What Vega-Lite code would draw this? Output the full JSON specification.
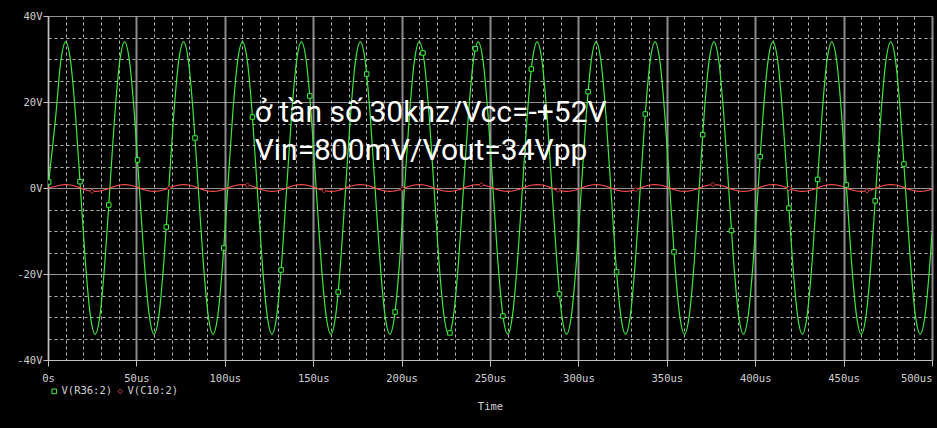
{
  "$schema": "https://vega.github.io/schema/vega-lite/v6.json",
  "width": 884,
  "height": 344,
  "autosize": {"type": "none"},
  "padding": {"left": 48, "top": 16, "right": 5, "bottom": 68},
  "background": "#000000",
  "config": {
    "view": {"stroke": null},
    "legend": {
      "orient": "none",
      "legendX": 1,
      "legendY": 370,
      "direction": "horizontal",
      "labelColor": "#d0d0d0",
      "labelFont": "DejaVu Sans Mono",
      "labelFontSize": 10.5,
      "symbolSize": 22,
      "symbolStrokeWidth": 1,
      "symbolFillColor": "#000000",
      "columnPadding": 2,
      "labelOffset": 2
    }
  },
  "datasets": {
    "wave": [
      {"t":0,"g":0,"r":0},
      {"t":4.44,"g":17,"r":0.4},{"t":7.22,"g":29.44,"r":0.69},{"t":10,"g":34,"r":0.8},{"t":12.78,"g":29.44,"r":0.69},{"t":15.56,"g":17,"r":0.4},{"t":18.33,"g":0,"r":0},{"t":21.11,"g":-17,"r":-0.4},{"t":23.89,"g":-29.44,"r":-0.69},{"t":26.67,"g":-34,"r":-0.8},{"t":29.44,"g":-29.44,"r":-0.69},{"t":32.22,"g":-17,"r":-0.4},
      {"t":35,"g":0,"r":0},{"t":37.78,"g":17,"r":0.4},{"t":40.56,"g":29.44,"r":0.69},{"t":43.33,"g":34,"r":0.8},{"t":46.11,"g":29.44,"r":0.69},{"t":48.89,"g":17,"r":0.4},{"t":51.67,"g":0,"r":0},{"t":54.44,"g":-17,"r":-0.4},{"t":57.22,"g":-29.44,"r":-0.69},{"t":60,"g":-34,"r":-0.8},{"t":62.78,"g":-29.44,"r":-0.69},{"t":65.56,"g":-17,"r":-0.4},
      {"t":68.33,"g":0,"r":0},{"t":71.11,"g":17,"r":0.4},{"t":73.89,"g":29.44,"r":0.69},{"t":76.67,"g":34,"r":0.8},{"t":79.44,"g":29.44,"r":0.69},{"t":82.22,"g":17,"r":0.4},{"t":85,"g":0,"r":0},{"t":87.78,"g":-17,"r":-0.4},{"t":90.56,"g":-29.44,"r":-0.69},{"t":93.33,"g":-34,"r":-0.8},{"t":96.11,"g":-29.44,"r":-0.69},{"t":98.89,"g":-17,"r":-0.4},
      {"t":101.67,"g":0,"r":0},{"t":104.44,"g":17,"r":0.4},{"t":107.22,"g":29.44,"r":0.69},{"t":110,"g":34,"r":0.8},{"t":112.78,"g":29.44,"r":0.69},{"t":115.56,"g":17,"r":0.4},{"t":118.33,"g":0,"r":0},{"t":121.11,"g":-17,"r":-0.4},{"t":123.89,"g":-29.44,"r":-0.69},{"t":126.67,"g":-34,"r":-0.8},{"t":129.44,"g":-29.44,"r":-0.69},{"t":132.22,"g":-17,"r":-0.4},
      {"t":135,"g":0,"r":0},{"t":137.78,"g":17,"r":0.4},{"t":140.56,"g":29.44,"r":0.69},{"t":143.33,"g":34,"r":0.8},{"t":146.11,"g":29.44,"r":0.69},{"t":148.89,"g":17,"r":0.4},{"t":151.67,"g":0,"r":0},{"t":154.44,"g":-17,"r":-0.4},{"t":157.22,"g":-29.44,"r":-0.69},{"t":160,"g":-34,"r":-0.8},{"t":162.78,"g":-29.44,"r":-0.69},{"t":165.56,"g":-17,"r":-0.4},
      {"t":168.33,"g":0,"r":0},{"t":171.11,"g":17,"r":0.4},{"t":173.89,"g":29.44,"r":0.69},{"t":176.67,"g":34,"r":0.8},{"t":179.44,"g":29.44,"r":0.69},{"t":182.22,"g":17,"r":0.4},{"t":185,"g":0,"r":0},{"t":187.78,"g":-17,"r":-0.4},{"t":190.56,"g":-29.44,"r":-0.69},{"t":193.33,"g":-34,"r":-0.8},{"t":196.11,"g":-29.44,"r":-0.69},{"t":198.89,"g":-17,"r":-0.4},
      {"t":201.67,"g":0,"r":0},{"t":204.44,"g":17,"r":0.4},{"t":207.22,"g":29.44,"r":0.69},{"t":210,"g":34,"r":0.8},{"t":212.78,"g":29.44,"r":0.69},{"t":215.56,"g":17,"r":0.4},{"t":218.33,"g":0,"r":0},{"t":221.11,"g":-17,"r":-0.4},{"t":223.89,"g":-29.44,"r":-0.69},{"t":226.67,"g":-34,"r":-0.8},{"t":229.44,"g":-29.44,"r":-0.69},{"t":232.22,"g":-17,"r":-0.4},
      {"t":235,"g":0,"r":0},{"t":237.78,"g":17,"r":0.4},{"t":240.56,"g":29.44,"r":0.69},{"t":243.33,"g":34,"r":0.8},{"t":246.11,"g":29.44,"r":0.69},{"t":248.89,"g":17,"r":0.4},{"t":251.67,"g":0,"r":0},{"t":254.44,"g":-17,"r":-0.4},{"t":257.22,"g":-29.44,"r":-0.69},{"t":260,"g":-34,"r":-0.8},{"t":262.78,"g":-29.44,"r":-0.69},{"t":265.56,"g":-17,"r":-0.4},
      {"t":268.33,"g":0,"r":0},{"t":271.11,"g":17,"r":0.4},{"t":273.89,"g":29.44,"r":0.69},{"t":276.67,"g":34,"r":0.8},{"t":279.44,"g":29.44,"r":0.69},{"t":282.22,"g":17,"r":0.4},{"t":285,"g":0,"r":0},{"t":287.78,"g":-17,"r":-0.4},{"t":290.56,"g":-29.44,"r":-0.69},{"t":293.33,"g":-34,"r":-0.8},{"t":296.11,"g":-29.44,"r":-0.69},{"t":298.89,"g":-17,"r":-0.4},
      {"t":301.67,"g":0,"r":0},{"t":304.44,"g":17,"r":0.4},{"t":307.22,"g":29.44,"r":0.69},{"t":310,"g":34,"r":0.8},{"t":312.78,"g":29.44,"r":0.69},{"t":315.56,"g":17,"r":0.4},{"t":318.33,"g":0,"r":0},{"t":321.11,"g":-17,"r":-0.4},{"t":323.89,"g":-29.44,"r":-0.69},{"t":326.67,"g":-34,"r":-0.8},{"t":329.44,"g":-29.44,"r":-0.69},{"t":332.22,"g":-17,"r":-0.4},
      {"t":335,"g":0,"r":0},{"t":337.78,"g":17,"r":0.4},{"t":340.56,"g":29.44,"r":0.69},{"t":343.33,"g":34,"r":0.8},{"t":346.11,"g":29.44,"r":0.69},{"t":348.89,"g":17,"r":0.4},{"t":351.67,"g":0,"r":0},{"t":354.44,"g":-17,"r":-0.4},{"t":357.22,"g":-29.44,"r":-0.69},{"t":360,"g":-34,"r":-0.8},{"t":362.78,"g":-29.44,"r":-0.69},{"t":365.56,"g":-17,"r":-0.4},
      {"t":368.33,"g":0,"r":0},{"t":371.11,"g":17,"r":0.4},{"t":373.89,"g":29.44,"r":0.69},{"t":376.67,"g":34,"r":0.8},{"t":379.44,"g":29.44,"r":0.69},{"t":382.22,"g":17,"r":0.4},{"t":385,"g":0,"r":0},{"t":387.78,"g":-17,"r":-0.4},{"t":390.56,"g":-29.44,"r":-0.69},{"t":393.33,"g":-34,"r":-0.8},{"t":396.11,"g":-29.44,"r":-0.69},{"t":398.89,"g":-17,"r":-0.4},
      {"t":401.67,"g":0,"r":0},{"t":404.44,"g":17,"r":0.4},{"t":407.22,"g":29.44,"r":0.69},{"t":410,"g":34,"r":0.8},{"t":412.78,"g":29.44,"r":0.69},{"t":415.56,"g":17,"r":0.4},{"t":418.33,"g":0,"r":0},{"t":421.11,"g":-17,"r":-0.4},{"t":423.89,"g":-29.44,"r":-0.69},{"t":426.67,"g":-34,"r":-0.8},{"t":429.44,"g":-29.44,"r":-0.69},{"t":432.22,"g":-17,"r":-0.4},
      {"t":435,"g":0,"r":0},{"t":437.78,"g":17,"r":0.4},{"t":440.56,"g":29.44,"r":0.69},{"t":443.33,"g":34,"r":0.8},{"t":446.11,"g":29.44,"r":0.69},{"t":448.89,"g":17,"r":0.4},{"t":451.67,"g":0,"r":0},{"t":454.44,"g":-17,"r":-0.4},{"t":457.22,"g":-29.44,"r":-0.69},{"t":460,"g":-34,"r":-0.8},{"t":462.78,"g":-29.44,"r":-0.69},{"t":465.56,"g":-17,"r":-0.4},
      {"t":468.33,"g":0,"r":0},{"t":471.11,"g":17,"r":0.4},{"t":473.89,"g":29.44,"r":0.69},{"t":476.67,"g":34,"r":0.8},{"t":479.44,"g":29.44,"r":0.69},{"t":482.22,"g":17,"r":0.4},{"t":485,"g":0,"r":0},{"t":487.78,"g":-17,"r":-0.4},{"t":490.56,"g":-29.44,"r":-0.69},{"t":493.33,"g":-34,"r":-0.8},{"t":496.11,"g":-29.44,"r":-0.69},{"t":498.89,"g":-17,"r":-0.4},
      {"t":500,"g":-10.5,"r":-0.25}
    ],
    "markers": [
      {"t":0.4,"v":1.4,"s":"V(R36:2)"},{"t":18.10,"v":1.47,"s":"V(R36:2)"},{"t":34.38,"v":-3.95,"s":"V(R36:2)"},{"t":50.65,"v":6.51,"s":"V(R36:2)"},{"t":66.90,"v":-9.07,"s":"V(R36:2)"},{"t":83.15,"v":11.63,"s":"V(R36:2)"},{"t":99.42,"v":-13.95,"s":"V(R36:2)"},{"t":115.64,"v":16.51,"s":"V(R36:2)"},{"t":131.84,"v":-19.07,"s":"V(R36:2)"},{"t":148.06,"v":21.40,"s":"V(R36:2)"},{"t":164.13,"v":-24.19,"s":"V(R36:2)"},{"t":180.26,"v":26.51,"s":"V(R36:2)"},{"t":196.30,"v":-28.84,"s":"V(R36:2)"},{"t":212.09,"v":31.40,"s":"V(R36:2)"},{"t":227.34,"v":-33.72,"s":"V(R36:2)"},{"t":241.70,"v":32.40,"s":"V(R36:2)"},{"t":257.32,"v":-29.77,"s":"V(R36:2)"},{"t":273.38,"v":27.67,"s":"V(R36:2)"},{"t":289.30,"v":-24.65,"s":"V(R36:2)"},{"t":305.48,"v":22.40,"s":"V(R36:2)"},{"t":321.58,"v":-19.53,"s":"V(R36:2)"},{"t":337.82,"v":17.21,"s":"V(R36:2)"},{"t":354.07,"v":-14.85,"s":"V(R36:2)"},{"t":370.31,"v":12.4,"s":"V(R36:2)"},{"t":386.56,"v":-9.88,"s":"V(R36:2)"},{"t":402.82,"v":7.3,"s":"V(R36:2)"},{"t":419.07,"v":-4.67,"s":"V(R36:2)"},{"t":435.31,"v":2.0,"s":"V(R36:2)"},{"t":451.56,"v":0.7,"s":"V(R36:2)"},{"t":467.86,"v":-3.0,"s":"V(R36:2)"},{"t":484.13,"v":5.58,"s":"V(R36:2)"},
      {"t":24.9,"v":-0.76,"s":"V(C10:2)"},{"t":68.4,"v":0.01,"s":"V(C10:2)"},{"t":112.8,"v":0.69,"s":"V(C10:2)"},{"t":156.1,"v":-0.59,"s":"V(C10:2)"},{"t":200.4,"v":-0.19,"s":"V(C10:2)"},{"t":245.1,"v":0.76,"s":"V(C10:2)"},{"t":288.5,"v":-0.49,"s":"V(C10:2)"},{"t":332.4,"v":-0.38,"s":"V(C10:2)"},{"t":376.1,"v":0.8,"s":"V(C10:2)"},{"t":419.1,"v":-0.11,"s":"V(C10:2)"},{"t":463.2,"v":-0.66,"s":"V(C10:2)"}
    ],
    "notes": [
      {"t":116.9,"v":15.35,"label":"ở tần số 30khz/Vcc=-+52V"},
      {"t":116.9,"v":6.5,"label":"Vin=800mV/Vout=34Vpp"}
    ]
  },
  "encoding": {
    "x": {
      "field": "t", "type": "quantitative",
      "scale": {"domain": [0, 500], "nice": false, "zero": false},
      "axis": {
        "values": [0,10,20,30,40,50,60,70,80,90,100,110,120,130,140,150,160,170,180,190,200,210,220,230,240,250,260,270,280,290,300,310,320,330,340,350,360,370,380,390,400,410,420,430,440,450,460,470,480,490,500],
        "title": "Time",
        "labelExpr": "datum.value % 50 === 0 ? (datum.value === 0 ? '0s' : datum.value + 'us') : ''",
        "labelFlush": false,
        "labelOverlap": false,
        "labelAlign": {"condition": {"test": "datum.value === 500", "value": "right"}, "value": "center"},
        "grid": true,
        "gridColor": {"condition": {"test": "datum.value % 50 === 0", "value": "#8c8c8c"}, "value": "#b4b4b4"},
        "gridWidth": {"condition": {"test": "datum.value % 50 === 0", "value": 2}, "value": 1},
        "gridDash": {"condition": {"test": "datum.value % 50 === 0", "value": [1, 0]}, "value": [3, 3]},
        "tickColor": "#c0c0c0",
        "tickOpacity": {"condition": {"test": "datum.value % 50 === 0", "value": 1}, "value": 0},
        "tickSize": 6,
        "domainColor": "#c0c0c0",
        "labelColor": "#d0d0d0",
        "labelFont": "DejaVu Sans Mono",
        "labelFontSize": 10.5,
        "labelPadding": 7,
        "titleColor": "#d0d0d0",
        "titleFont": "DejaVu Sans Mono",
        "titleFontSize": 10.5,
        "titleFontWeight": "normal",
        "titlePadding": 18
      }
    },
    "y": {
      "field": "v", "type": "quantitative",
      "scale": {"domain": [-40, 40], "nice": false, "zero": false},
      "axis": {
        "values": [-40,-35,-30,-25,-20,-15,-10,-5,0,5,10,15,20,25,30,35,40],
        "title": null,
        "labelExpr": "datum.value % 20 === 0 ? datum.value + 'V' : ''",
        "labelOverlap": false,
        "labelFlush": false,
        "grid": true,
        "gridColor": {"condition": {"test": "datum.value % 20 === 0", "value": "#c0c0c0"}, "value": "#b4b4b4"},
        "gridWidth": 1,
        "gridDash": {"condition": {"test": "datum.value % 20 === 0", "value": [1, 0]}, "value": [3, 3]},
        "tickColor": "#c0c0c0",
        "tickOpacity": {"condition": {"test": "datum.value % 20 === 0", "value": 1}, "value": 0},
        "tickSize": 5,
        "domainColor": "#c0c0c0",
        "labelColor": "#d0d0d0",
        "labelFont": "DejaVu Sans Mono",
        "labelFontSize": 10.5,
        "labelPadding": 1
      }
    }
  },
  "layer": [
    {
      "data": {"name": "wave"},
      "transform": [{"fold": ["g", "r"], "as": ["k", "v"]}],
      "mark": {"type": "line", "strokeWidth": 1.2, "interpolate": "monotone", "clip": true},
      "encoding": {
        "color": {"field": "k", "type": "nominal", "scale": {"domain": ["g", "r"], "range": ["#3ee63e", "#ff5050"]}, "legend": null}
      }
    },
    {
      "data": {"name": "markers"},
      "mark": {"type": "point", "filled": true, "fill": "#000000", "strokeWidth": 1, "opacity": 1, "size": 20, "clip": true},
      "encoding": {
        "stroke": {"field": "s", "type": "nominal", "scale": {"domain": ["V(R36:2)", "V(C10:2)"], "range": ["#40f040", "#c83c3c"]}, "legend": {"title": null}},
        "shape": {"field": "s", "type": "nominal", "scale": {"domain": ["V(R36:2)", "V(C10:2)"], "range": ["square", "diamond"]}, "legend": {"title": null}}
      }
    },
    {
      "data": {"name": "notes"},
      "mark": {"type": "text", "align": "left", "baseline": "alphabetic", "color": "#ffffff", "font": "Roboto", "fontWeight": 400, "fontSize": 30},
      "encoding": {
        "text": {"field": "label", "type": "nominal"}
      }
    }
  ]
}
